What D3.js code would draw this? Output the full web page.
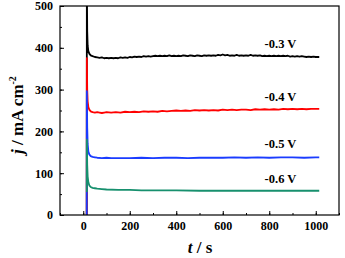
<!DOCTYPE html>
<html><head><meta charset="utf-8">
<script src="https://cdn.jsdelivr.net/npm/d3@7/dist/d3.min.js"></script>
<style>body{margin:0;background:#fff}svg{display:block}text{font-family:"Liberation Serif","Times New Roman",serif;font-weight:bold}</style>
</head><body><svg id="c" width="345" height="258"></svg>
<script>
const xTicks = [0, 200, 400, 600, 800, 1000];
const yTicks = [0, 100, 200, 300, 400, 500];
const seriesNames = ["-0.3 V", "-0.4 V", "-0.5 V", "-0.6 V"];
const seriesColors = ["#000000", "#ff0000", "#1a3cff", "#17906e"];
const labelPos = [[780, 400], [780, 273], [780, 160], [780, 77]];
const black = [[15,0],[15.5,560],[17,440],[19,405],[22,392],[26,386],[32,382],[40,380],[50,378],[60,377],[70,376],[80,377],[90,375],[100,376],[110,375],[120,376],[130,375],[140,376],[150,375],[160,377],[170,376],[180,377],[190,376],[200,378],[210,377],[220,379],[230,378],[240,379],[250,378],[260,380],[270,379],[280,380],[290,379],[300,380],[310,381],[320,380],[330,381],[340,380],[350,381],[360,380],[370,382],[380,380],[390,381],[400,380],[410,381],[420,380],[430,382],[440,381],[450,380],[460,382],[470,381],[480,380],[490,382],[500,381],[510,380],[520,382],[530,381],[540,382],[550,381],[560,382],[570,381],[580,383],[590,382],[600,384],[610,382],[620,383],[630,381],[640,382],[650,381],[660,383],[670,381],[680,382],[690,381],[700,382],[710,381],[720,383],[730,381],[740,382],[750,381],[760,382],[770,380],[780,381],[790,380],[800,381],[810,380],[820,381],[830,380],[840,381],[850,380],[860,381],[870,380],[880,381],[890,379],[900,380],[910,379],[920,380],[930,379],[940,380],[950,379],[960,378],[970,379],[980,378],[990,379],[1000,378],[1015,378]];
const red = [[15,0],[15.5,375],[17,300],[19,272],[22,258],[26,252],[32,248],[40,246],[50,245],[60,246],[70,245],[80,244],[90,245],[100,246],[120,245],[140,246],[160,245],[180,247],[200,246],[220,247],[240,246],[260,248],[280,247],[300,248],[320,247],[340,249],[360,248],[380,249],[400,250],[420,249],[440,250],[460,249],[480,251],[500,250],[520,251],[540,250],[560,251],[580,250],[600,252],[620,251],[640,252],[660,251],[680,252],[700,252],[720,251],[740,253],[760,252],[780,253],[800,252],[820,253],[840,252],[860,254],[880,253],[900,254],[920,253],[940,254],[960,253],[980,254],[1000,254],[1015,254]];
const blue = [[15,0],[15.5,296],[17,210],[19,170],[22,152],[26,145],[32,141],[40,139],[50,138],[60,137],[80,136],[100,137],[120,136],[150,136],[200,136],[250,137],[300,136],[350,137],[400,137],[450,136],[500,137],[550,137],[600,137],[650,138],[700,137],[750,138],[800,137],[850,138],[900,138],[950,137],[1000,138],[1015,138]];
const green = [[15.5,55],[15.5,180],[17,120],[19,92],[22,78],[26,71],[32,67],[40,65],[50,64],[60,63],[80,62],[100,61],[150,60],[200,60],[250,59],[300,59],[400,59],[500,58],[600,58],[700,58],[800,58],[900,58],[1000,58],[1015,58]];
const allSeries = [black, red, blue, green];

const svg = d3.select("#c");
const m = {l:60, t:6, r:339, b:215};
const x = d3.scaleLinear().domain([-100, 1100]).range([m.l, m.r]);
const y = d3.scaleLinear().domain([0, 500]).range([m.b, m.t]);

svg.append("clipPath").attr("id","clip").append("rect")
  .attr("x", m.l).attr("y", m.t).attr("width", m.r-m.l).attr("height", m.b-m.t);

const line = d3.line().x(d=>x(d[0])).y(d=>y(d[1]));
const g = svg.append("g").attr("clip-path","url(#clip)");
allSeries.forEach((s,i)=>{
  g.append("path").datum(s).attr("d", line)
    .attr("fill","none").attr("stroke", seriesColors[i]).attr("stroke-width", 1.8)
    .attr("stroke-linejoin","round");
});

// axes: ticks inward
const xMinor = d3.range(-100, 1101, 100);
const yMinor = d3.range(0, 501, 50);
const ax = svg.append("g");
ax.append("g").attr("transform",`translate(0,${m.b})`)
  .call(d3.axisBottom(x).tickValues(xMinor).tickSize(-2).tickFormat(""))
  .call(s=>s.select(".domain").remove());
ax.append("g").attr("transform",`translate(0,${m.b})`)
  .call(d3.axisBottom(x).tickValues(xTicks).tickSize(-4).tickPadding(6).tickFormat(d3.format("d")))
  .call(s=>s.select(".domain").remove());
ax.append("g").attr("transform",`translate(${m.l},0)`)
  .call(d3.axisLeft(y).tickValues(yMinor).tickSize(-2).tickFormat(""))
  .call(s=>s.select(".domain").remove());
ax.append("g").attr("transform",`translate(${m.l},0)`)
  .call(d3.axisLeft(y).tickValues(yTicks).tickSize(-4).tickPadding(7).tickFormat(d3.format("d")))
  .call(s=>s.select(".domain").remove());
ax.selectAll(".tick line").attr("stroke","#000").attr("stroke-width",1);
ax.selectAll(".tick text").attr("font-size","12px").attr("font-family",'"Liberation Serif",serif').attr("font-weight","bold").attr("fill","#000");

svg.append("rect").attr("x", m.l).attr("y", m.t).attr("width", m.r-m.l).attr("height", m.b-m.t)
  .attr("fill","none").attr("stroke","#000").attr("stroke-width",1.2);

// series labels
seriesNames.forEach((n,i)=>{
  svg.append("text").attr("x", x(labelPos[i][0])).attr("y", y(labelPos[i][1]))
    .attr("font-size","12.5px").attr("fill","#000").text(n);
});

// axis titles
const xt = svg.append("text").attr("x", 200).attr("y", 253).attr("text-anchor","middle").attr("font-size","17px");
xt.append("tspan").attr("font-style","italic").text("t");
xt.append("tspan").text(" / s");
const yt = svg.append("text").attr("transform","translate(23,115) rotate(-90)").attr("text-anchor","middle").attr("font-size","17px");
yt.append("tspan").attr("font-style","italic").text("j");
yt.append("tspan").text(" / mA cm");
yt.append("tspan").attr("dy","-7").attr("font-size","10px").text("-2");
</script></body></html>
